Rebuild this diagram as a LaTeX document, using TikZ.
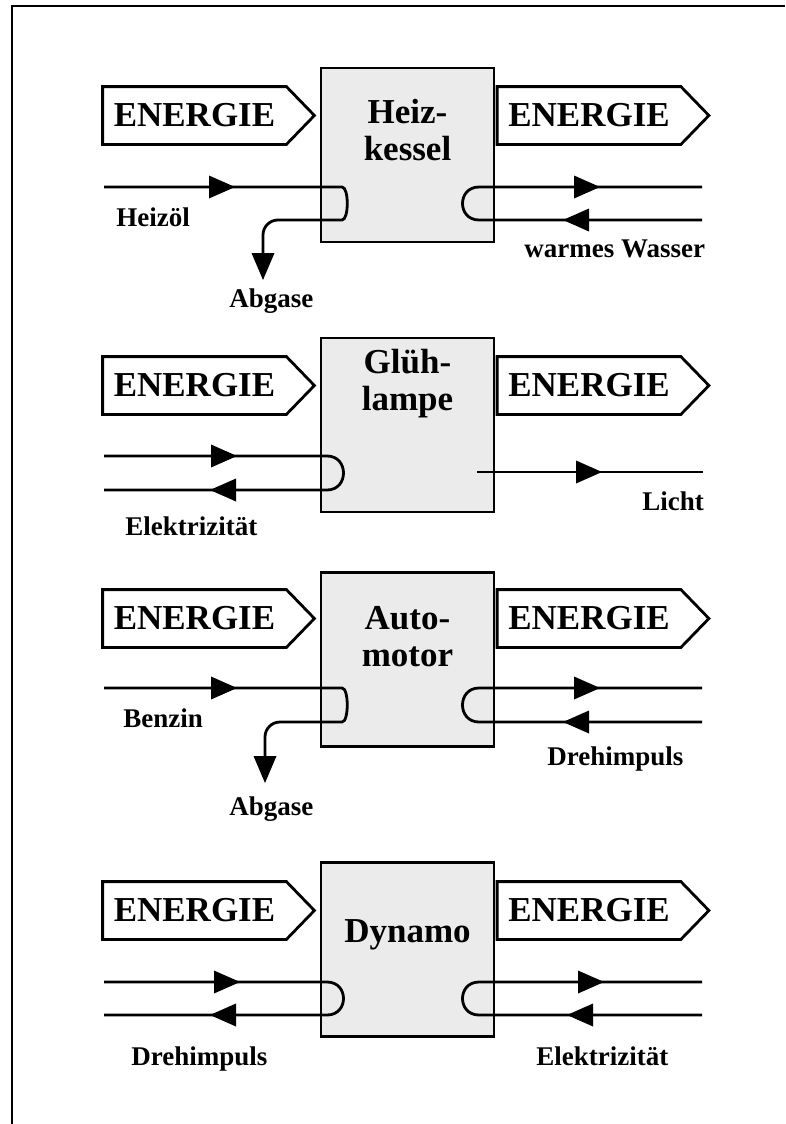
\documentclass[tikz,border=0pt]{standalone}
\usepackage{fontspec}
\setmainfont{Liberation Serif}
\begin{document}
\begin{tikzpicture}[
    x=1pt, y=-1pt,
    line width=2.8pt,
    every node/.style={font=\bfseries\fontsize{27}{30}\selectfont},
    energy/.style={minimum width=181pt, minimum height=55pt, inner sep=0pt,
      font=\bfseries\fontsize{35}{37}\selectfont},
    machine/.style={draw, fill=black!8, minimum width=173pt, minimum height=174pt, inner sep=0pt},
    big/.style={font=\bfseries\fontsize{35}{37}\selectfont, anchor=base, inner sep=0pt},
    lab/.style={anchor=base west, inner sep=0pt}
  ]
    \useasboundingbox (0,0) rectangle (785,1124);

    % Frame ----------------------------------------------------------
    \draw[line width=2pt] (12,1124) -- (12,6) -- (785,6);

    % Machines -------------------------------------------------------
    \node[machine] (hk) at (407.5,155) {};
    \node[machine] (gl) at (407.5,425) {};
    \node[machine] (am) at (407.5,659.5) {};
    \node[machine] (dy) at (407.5,949.5) {};

    \node[big] (hk-a) at (407.5,123) {Heiz-};
    \node[big] (hk-b) at (407.5,160) {kessel};
    \node[big] (gl-a) at (407.5,373) {Glüh-};
    \node[big] (gl-b) at (407.5,410) {lampe};
    \node[big] (am-a) at (407.5,629) {Auto-};
    \node[big] (am-b) at (407.5,666) {motor};
    \node[big] (dy-a) at (407.5,942) {Dynamo};

    % ENERGIE signs --------------------------------------------------
    \foreach \n/\x/\y in {hk/194.5/115.5, gl/194.5/385.5, am/194.5/618.5, dy/194.5/910.5}{
      \node[energy] (\n-el) at (\x,\y) {ENERGIE};
      \node[energy] (\n-er) at (\x+394.5,\y) {ENERGIE};
    }
    \foreach \n in {hk-el,hk-er,gl-el,gl-er,am-el,am-er,dy-el,dy-er}
      \draw (\n.north west) -- (\n.north east) -- ([xshift=28pt]\n.east)
        -- (\n.south east) -- (\n.south west) -- cycle;

    % Heizkessel -----------------------------------------------------
    \coordinate (hk-oil) at (104,187);
    \coordinate (hk-gas) at (263,254);
    \coordinate (hk-w1) at (702,187);
    \coordinate (hk-w2) at (702,220);
    \draw[rounded corners=15pt] (hk-oil) -- (327,187)
      .. controls (349,187) and (349,220) .. (327,220) -- (263,220) -- (hk-gas);
    \draw (hk-w1) -- (479,187) .. controls (457,187) and (457,220) .. (479,220) -- (hk-w2);

    % Gluehlampe -----------------------------------------------------
    \coordinate (gl-e1) at (104,456);
    \coordinate (gl-e2) at (104,490);
    \coordinate (gl-l0) at (477,472);
    \coordinate (gl-l1) at (703,472);
    \draw (gl-e1) -- (327,456) .. controls (349,456) and (349,490) .. (327,490) -- (gl-e2);
    \draw (gl-l0) -- (gl-l1);

    % Automotor ------------------------------------------------------
    \coordinate (am-fuel) at (104,688);
    \coordinate (am-gas) at (265,757);
    \coordinate (am-d1) at (702,688);
    \coordinate (am-d2) at (702,722);
    \draw[rounded corners=15pt] (am-fuel) -- (327,688)
      .. controls (349,688) and (349,722) .. (327,722) -- (265,722) -- (am-gas);
    \draw (am-d1) -- (479,688) .. controls (457,688) and (457,722) .. (479,722) -- (am-d2);

    % Dynamo ---------------------------------------------------------
    \coordinate (dy-d1) at (104,982);
    \coordinate (dy-d2) at (104,1015);
    \coordinate (dy-e1) at (702,982);
    \coordinate (dy-e2) at (702,1015);
    \draw (dy-d1) -- (327,982) .. controls (349,982) and (349,1015) .. (327,1015) -- (dy-d2);
    \draw (dy-e1) -- (479,982) .. controls (457,982) and (457,1015) .. (479,1015) -- (dy-e2);

    % Arrow heads ----------------------------------------------------
    \foreach \x/\y in {235/187, 600/187, 237/456, 602/472, 237/688, 600/688, 240/982, 604/982}
      \fill (\x,\y) -- ++(-26,-11.5) -- ++(0,23) -- cycle;
    \foreach \x/\y in {563/220, 210/490, 563/722, 210/1015, 567/1015}
      \fill (\x,\y) -- ++(26,-11.5) -- ++(0,23) -- cycle;
    \foreach \x/\y in {263/280, 265/783}
      \fill (\x,\y) -- ++(-11.5,-27) -- ++(23,0) -- cycle;

    % Labels ---------------------------------------------------------
    \node[lab] (l-oil) at (115,226) {Heizöl};
    \node[lab] (l-gas1) at (228,307) {Abgase};
    \node[lab] (l-water) at (523,257) {warmes Wasser};
    \node[lab] (l-el1) at (124,535) {Elektrizität};
    \node[lab] (l-light) at (641,510) {Licht};
    \node[lab] (l-fuel) at (122,727) {Benzin};
    \node[lab] (l-gas2) at (228,815) {Abgase};
    \node[lab] (l-rot1) at (546,765) {Drehimpuls};
    \node[lab] (l-rot2) at (130,1065) {Drehimpuls};
    \node[lab] (l-el2) at (535,1065) {Elektrizität};

  \end{tikzpicture}
\end{document}
